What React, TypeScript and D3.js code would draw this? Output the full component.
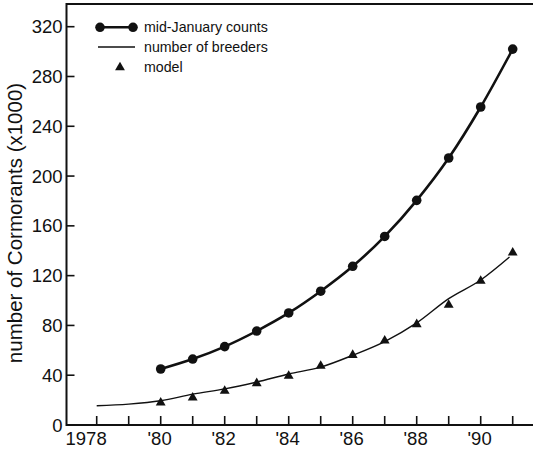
import React from 'react';
import * as d3 from 'd3';

// mid-January counts (x1000)
const countYears = [1980, 1981, 1982, 1983, 1984, 1985, 1986, 1987, 1988, 1989, 1990, 1991];
const countValues = [45, 53, 63, 75.5, 90, 107.5, 127.5, 151.5, 180.5, 214.5, 255.5, 302];

// number of breeders (x1000)
const breederYears = [1978, 1979, 1980, 1981, 1982, 1983, 1984, 1985, 1986, 1987, 1988, 1989, 1990, 1990.9];
const breederValues = [15.5, 16.8, 19.5, 24.8, 29, 34.5, 41, 46.5, 56, 67, 82, 101.5, 116.5, 135];

// model (x1000)
const modelYears = [1980, 1981, 1982, 1983, 1984, 1985, 1986, 1987, 1988, 1989, 1990, 1991];
const modelValues = [18, 22, 27.3, 33.5, 39.4, 47.4, 56.2, 67.7, 80.9, 96.4, 115.7, 138.4];

const xTicks = [1978, 1979, 1980, 1981, 1982, 1983, 1984, 1985, 1986, 1987, 1988, 1989, 1990, 1991];
const xLabels = ['1978', '', "'80", '', "'82", '', "'84", '', "'86", '', "'88", '', "'90", ''];
const yTicks = [0, 40, 80, 120, 160, 200, 240, 280, 320];

const W = 533;
const H = 450;
const font = '"Liberation Sans", Arial, Helvetica, sans-serif';

const App = () => {
    const x = d3.scaleLinear().domain([1978, 1991]).range([96.7, 512.7]);
    const y = d3.scaleLinear().domain([0, 320]).range([425, 26.7]);

    const left = 66.5;
    const bottom = y(0);
    const top = 4;

    const countLine = d3
        .line<number>()
        .x((d, i) => x(countYears[i]))
        .y(d => y(d))
        .curve(d3.curveMonotoneX);

    const breederLine = d3
        .line<number>()
        .x((d, i) => x(breederYears[i]))
        .y(d => y(d))
        .curve(d3.curveMonotoneX);

    const tri = d3.symbol().type(d3.symbolTriangle).size(42)();
    const dot = 4.8;

    return (
        <svg
            width={W}
            height={H}
            style={{ position: 'absolute', left: 0, top: 0, background: '#fff' }}
            fontFamily={font}
        >
            {/* frame */}
            <line x1={left} x2={W + 5} y1={top} y2={top} stroke="#111" strokeWidth={2} />
            <line x1={left} x2={W + 5} y1={bottom} y2={bottom} stroke="#111" strokeWidth={2} />
            <line x1={left} x2={left} y1={top - 1} y2={bottom + 1} stroke="#111" strokeWidth={2} />

            {/* y axis */}
            {yTicks.map(t => (
                <g key={t}>
                    <line x1={left} x2={left + 8} y1={y(t)} y2={y(t)} stroke="#111" strokeWidth={1.6} />
                    <text
                        x={left - 4}
                        y={y(t)}
                        textAnchor="end"
                        dominantBaseline="central"
                        fontSize={18.5}
                        fill="#111"
                    >
                        {t}
                    </text>
                </g>
            ))}

            {/* x axis */}
            {xTicks.map((t, i) => (
                <g key={t}>
                    <line x1={x(t)} x2={x(t)} y1={bottom} y2={bottom - 9} stroke="#111" strokeWidth={1.6} />
                    {xLabels[i] && (
                        <text
                            x={x(t) + (i === 0 ? 10 : 11)}
                            y={445}
                            textAnchor="end"
                            fontSize={18.5}
                            fill="#111"
                        >
                            {xLabels[i]}
                        </text>
                    )}
                </g>
            ))}

            <text
                transform={`translate(22,223) rotate(-90)`}
                textAnchor="middle"
                fontSize={20.5}
                fill="#111"
            >
                number of Cormorants (x1000)
            </text>

            {/* breeders */}
            <path d={breederLine(breederValues) || ''} fill="none" stroke="#111" strokeWidth={1.4} />

            {/* model */}
            {modelValues.map((v, i) => (
                <path key={i} d={tri || ''} transform={`translate(${x(modelYears[i])},${y(v)})`} fill="#111" />
            ))}

            {/* mid-January counts */}
            <path d={countLine(countValues) || ''} fill="none" stroke="#111" strokeWidth={2.6} />
            {countValues.map((v, i) => (
                <circle key={i} cx={x(countYears[i])} cy={y(v)} r={dot} fill="#111" />
            ))}

            {/* legend */}
            <g fontSize={14.2} fill="#111">
                <line x1={100} x2={133} y1={27.3} y2={27.3} stroke="#111" strokeWidth={2.6} />
                <circle cx={100} cy={27.3} r={dot} fill="#111" />
                <circle cx={133} cy={27.3} r={dot} fill="#111" />
                <text x={144} y={32.3}>mid-January counts</text>

                <line x1={98} x2={135} y1={47} y2={47} stroke="#111" strokeWidth={1.4} />
                <text x={144} y={52}>number of breeders</text>

                <path d={tri || ''} transform="translate(120,67.5)" fill="#111" />
                <text x={144} y={72}>model</text>
            </g>
        </svg>
    );
};

export default App;
